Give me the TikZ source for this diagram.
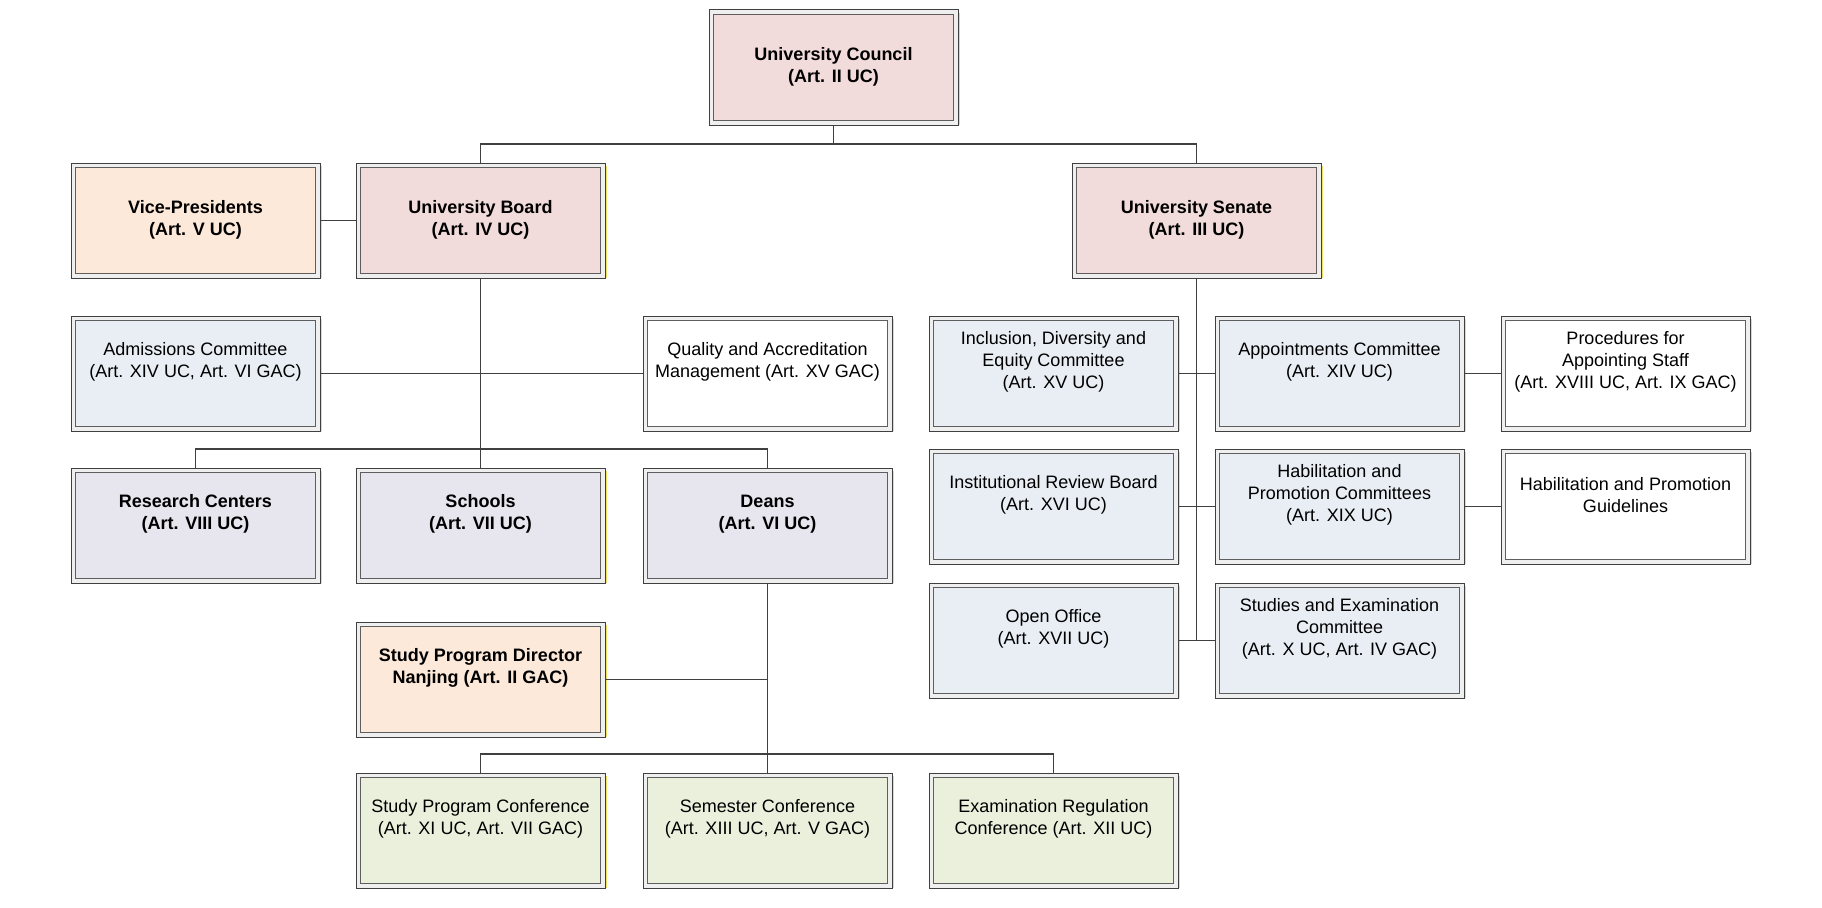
\documentclass[tikz,border=0pt]{standalone}
\usepackage{fontspec}
\setmainfont{Liberation Sans}
\definecolor{cpink}{HTML}{F2DCDB}
\definecolor{cpeach}{HTML}{FDE9D9}
\definecolor{cblue}{HTML}{E8EEF4}
\definecolor{clav}{HTML}{E7E5EE}
\definecolor{cgreen}{HTML}{EBF0DD}
\definecolor{cwhite}{HTML}{FFFFFF}
\definecolor{outerc}{HTML}{404040}
\definecolor{innerc}{HTML}{5E5E5E}
\definecolor{bandc}{HTML}{EFEFEF}
\definecolor{shadowc}{HTML}{F0E060}
\definecolor{linec}{HTML}{404040}
\tikzset{
  orgbox/.style={draw=outerc, line width=1pt, fill=bandc, minimum width=249pt,
    minimum height=115pt, inner sep=0pt, outer sep=0pt, anchor=north west,
    path picture={\filldraw[fill=#1, draw=innerc, line width=1.8pt]
      ([shift={(4.5pt,-4.5pt)}]path picture bounding box.north west) rectangle
      ([shift={(-4.5pt,4.5pt)}]path picture bounding box.south east);}},
  txt/.style={align=center, inner sep=0pt, font=\fontsize{18}{21.7}\selectfont},
  btxt/.style={txt, font=\fontsize{18}{21.7}\selectfont\bfseries},
  cbtxt/.style={btxt, yshift=-10.5pt},
  conn/.style={draw=linec, line width=1.3pt},
  shade/.style={draw=shadowc, line width=1.6pt}
}
\newcommand\obox[6]{%
  \node[orgbox=#4] (#1) at (#2,#3) {};
  \node[#5] (#1-t) at ([yshift=11.5pt]#1.center) {#6};
  \draw[shade] ([shift={(1.3pt,-3pt)}]#1.north east) -- ([shift={(1.3pt,0pt)}]#1.south east);
}
\begin{document}
\begin{tikzpicture}[x=1pt, y=-1pt]
\fill[white] (0,0) rectangle (1822,907);
\useasboundingbox (0,0) rectangle (1822,907);
% row 0
\obox{uc}{709}{10}{cpink}{cbtxt}{University Council\\(Art. II UC)}
% row 1
\obox{vp}{71}{163}{cpeach}{cbtxt}{Vice-Presidents\\(Art. V UC)}
\obox{ub}{356}{163}{cpink}{cbtxt}{University Board\\(Art. IV UC)}
\obox{sen}{1072}{163}{cpink}{cbtxt}{University Senate\\(Art. III UC)}
% row 2
\obox{adm}{71}{316}{cblue}{txt}{Admissions Committee\\(Art. XIV UC, Art. VI GAC)}
\obox{qam}{643}{316}{cwhite}{txt}{Quality and Accreditation\\Management (Art. XV GAC)}
\obox{idc}{929}{316}{cblue}{txt}{Inclusion, Diversity and\\Equity Committee\\(Art. XV UC)}
\obox{apc}{1215}{316}{cblue}{txt}{Appointments Committee\\(Art. XIV UC)}
\obox{pas}{1501}{316}{cwhite}{txt}{Procedures for\\Appointing Staff\\(Art. XVIII UC, Art. IX GAC)}
% row 3 left
\obox{rc}{71}{468}{clav}{btxt}{Research Centers\\(Art. VIII UC)}
\obox{sch}{356}{468}{clav}{btxt}{Schools\\(Art. VII UC)}
\obox{dn}{643}{468}{clav}{btxt}{Deans\\(Art. VI UC)}
% right cluster
\obox{irb}{929}{449}{cblue}{txt}{Institutional Review Board\\(Art. XVI UC)}
\obox{hpc}{1215}{449}{cblue}{txt}{Habilitation and\\Promotion Committees\\(Art. XIX UC)}
\obox{hpg}{1501}{449}{cwhite}{txt}{Habilitation and Promotion\\Guidelines}
\obox{oo}{929}{583}{cblue}{txt}{Open Office\\(Art. XVII UC)}
\obox{sec}{1215}{583}{cblue}{txt}{Studies and Examination\\Committee\\(Art. X UC, Art. IV GAC)}
% row 4
\obox{spd}{356}{622}{cpeach}{btxt}{Study Program Director\\Nanjing (Art. II GAC)}
% row 5
\obox{spc}{356}{773}{cgreen}{txt}{Study Program Conference\\(Art. XI UC, Art. VII GAC)}
\obox{sem}{643}{773}{cgreen}{txt}{Semester Conference\\(Art. XIII UC, Art. V GAC)}
\obox{erc}{929}{773}{cgreen}{txt}{Examination Regulation\\Conference (Art. XII UC)}
% connectors
\coordinate (b0) at ([yshift=-19pt]uc.south);
\draw[conn] (uc.south) -- (b0);
\draw[conn] (ub.north) |- (b0) -| (sen.north);
\draw[conn] (vp.east) -- (ub.west);
\draw[conn] (ub.south) -- (sch.north);
\draw[conn] (rc.north) -- ++(0,-19) -| (dn.north);
\draw[conn] (adm.east) -- (qam.west);
\draw[conn] (dn.south) -- (sem.north);
\draw[conn] (spc.north) -- ++(0,-19) -| (erc.north);
\draw[conn] (spd.east) -- (spd.east -| dn.south);
\draw[conn] (sen.south) -- (sen.south |- oo.east);
\draw[conn] (idc.east) -- (apc.west);
\draw[conn] (irb.east) -- (hpc.west);
\draw[conn] (oo.east) -- (sec.west);
\draw[conn] (apc.east) -- (pas.west);
\draw[conn] (hpc.east) -- (hpg.west);
\end{tikzpicture}
\end{document}
